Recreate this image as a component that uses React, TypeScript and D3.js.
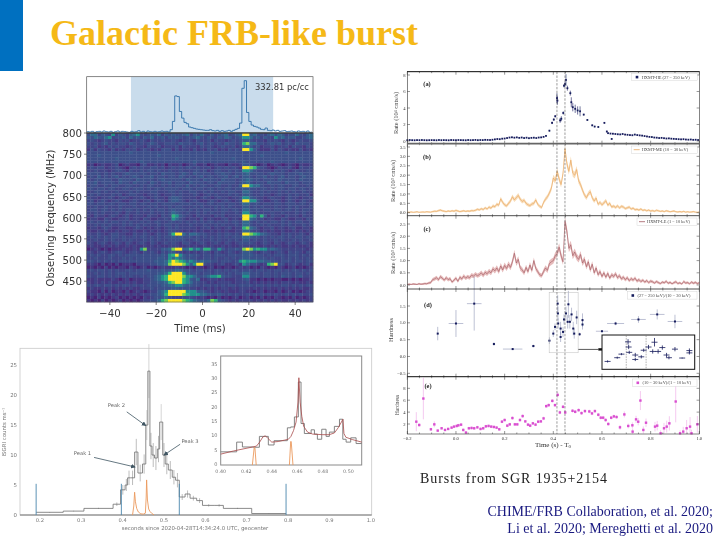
import * as d3 from "d3";

const title = "Galactic FRB-like burst";
const caption = "Bursts from SGR 1935+2154";
const refs = ["CHIME/FRB Collaboration, et al. 2020;", "Li et al. 2020; Mereghetti et al. 2020"];

// CHIME panel
const pulseTimes = d3.range(-50, 48, 1);
const pulseVals = [
  4,3,5,2,4,5,3,6,4,3, 5,2,4,6,3,5,4,3,2,5, 3,4,7,3,5,2,6,4,3,5, 3,4,6,4,5,3,
  10,35,112,110,65,45,32,28,18,16,14,12,11,10,9,8,8,10,7,6,8,5,7,5,6,8,5,8,11,14,30,
  135,158,62,35,24,20,18,15,11,10,15,8,7,9,6,8,5,6,7,4,5,6,4,3,6,4,5,3,6,2,4,
];
const freqTicks = [800, 750, 700, 650, 600, 550, 500, 450];
const timeMsTicks = [-40, -20, 0, 20, 40];
const dynLevels = [0.1, 0.16, 0.2, 0.24, 0.28, 0.34, 0.5, 0.65, 0.8, 1];
// one row per frequency channel, 800 MHz at the top, spaces only mark the two burst columns
const dynRows = [
  "35524326243245632343524 343345 243532423452345 99 453324535423353245",
  "43543562334253424352342 434323 345324324354234 66 534243264534422345",
  "23212322132312232132232 232123 213223132212323 44 322213232132123223",
  "32323423233243232343223 332433 323423323243323 78 553323434233243332",
  "22312132322123221322312 223132 221323212322312 55 423122312231322132",
  "13132213121323123212133 313122 131213231213232 99 642111313212113121",
  "33333333333343333333333 333333 333333433333333 33 333333333343333333",
  "33343333333333333333433 333333 333333333333333 33 333433333333333333",
  "33333333433333333333333 334333 333333333333433 33 333333333333334333",
  "33333333333333343333333 333333 343333333333333 43 333333433333333333",
  "12012112301211023112120 211201 231120121102112 44 210120121012102112",
  "23233122321023232233231 232323 323223123232321 99 874321013223103223",
  "22322212332132232332322 322322 233231233223232 66 532222132321232232",
  "33332323223433333233243 332343 243333233433233 45 333323433323334333",
  "23242323423234323342332 332432 323423323342342 44 323342323423323433",
  "32333332243332433332343 333324 333243332433323 45 433233324333324333",
  "33423333243324333243233 423332 433323324333323 45 323324333243332333",
  "23322323322332232332232 323324 232332233223224 99 655322323322332232",
  "33233233223323332323323 333233 323323323233233 44 332332323323323323",
  "22332322322232322233222 332322 332232322323322 55 322323223232322322",
  "23232223231233221223212 232322 232123232223232 44 322322123223232231",
  "32212232123212232123221 344322 221232123221223 66 432212322123221223",
  "23123212321123212312321 344321 232112321232123 99 663211232123212321",
  "33233233233233233233233 332333 323323323323323 55 333233233233323323",
  "22322322232223222323222 323322 232322232323222 44 232322232223232223",
  "23323323232332323232332 343332 323233232332332 55 333233233233232332",
  "22323222321322322232232 354323 223232322322232 66 323222322322232322",
  "21322123212312221322132 376432 213222132312223 99 763741322132221322",
  "12211321122312213211223 265321 221312211231221 99 542312211321122132",
  "23232323323232232323322 332323 232323323232332 55 323232332323233223",
  "22323232223232323222323 323222 322232232322232 55 322323222323222323",
  "12212321122112321212212 323222 221223122123122 78 542122312212311221",
  "21121211212212112121212 332212 121211212121122 55 322121211211212121",
  "32232123322113223212322 479953 554332223233232 99 876543221323223213",
  "23232323323223233232323 343433 323232323232333 55 433232323323233232",
  "22322323223232223232322 333332 233222323223232 44 232232232322323223",
  "32123212321321232132123 232133 212321232132123 33 321232132123212321",
  "12112121211212112121211 222112 121121211212112 22 121121212112121121",
  "01210101112112168222244 589955 756477436423343 89 867664543222222212",
  "32123212332123213232132 442212 121232132123212 44 321232123213232132",
  "23232233232333333333343 679643 433233233323333 44 433323233323332323",
  "22322232223232333333443 656543 332233232232323 44 333332322323232232",
  "33232323233333333334445 798765 654544332333236 76 665544332333233233",
  "12102010201110222233445 899986 469932212311231 65 332127893312321231",
  "01010201011021012010121 112110 102101201011012 12 010210102101201012",
  "23233232322332333433343 445543 323323233232332 33 323323233232332323",
  "22323232333233333333445 799964 333233233323233 55 333233232333233232",
  "32233232323232232334567 999986 653345667433222 66 333233232433234222",
  "11211112101201112234567 999976 435112221211122 34 110101011001010112",
  "21212121121212112233445 789976 533221212222122 23 121212121222121121",
  "32332332323323232333344 556654 433233232323323 33 323323232332323233",
  "12112121212121122232333 344333 221212121221212 22 121212112121212112",
  "21102020110201210122456 999996 664432122121112 21 101201102012010122",
  "12121212121212122233457 999987 666554334323232 23 232323232232323223",
  "01020101201010102123345 322233 321210102010120 12 010201021010201012",
  "10102010120101012233578 999987 654335874321212 22 212121212112121212",
].map((r) => r.replace(/ /g, ""));

// HXMT-HE rates
const aLeftRates = [
  .1,.12,.1,.09,.11,.1,.12,.1,.09,.1, .11,.1,.09,.12,.1,.11,.1,.09,.12,.11,
  .1,.12,.11,.1,.09,.12,.1,.11,.13,.1, .12,.11,.14,.13,.12,.15,.2,.24,.22,.28,
  .3,.36,.42,.45,.4,.44,.38,.42,.36,.4, .34,.38,.4,.36,.42,.44,.5,.62,
];
const aPeakTimes = [.384,.395,.402,.408,.415,.417,.428,.433,.441,.444,.448,.452,.458,.47,.474,.48,.49,.5,.51,.525,.54,.56,.57,.585,.61,.62,.64];
const aPeakRates = [1.25,2.2,2.6,3.0,5.2,4.9,2.5,2.7,3.4,6.7,6.9,7.4,6.4,5.8,4.7,4.1,3.9,3.7,3.6,3.2,2.55,1.9,1.75,1.7,2.2,1.15,.25];
const aPeakErrs = [.1,.15,.15,.15,.6,.5,.3,.3,.2,.2,.3,.7,.3,.3,.6,.5,.5,.5,.6,.1,.1,.1,.08,.08,.1,.1,.05];
const aRightRates = [
  .95,.9,.88,.85,.82,.8,.85,.78,.75,.72,.7,.78,.72,.68,.65,.6,.55,.5,.48,.42,
  .4,.36,.38,.34,.3,.32,.28,.26,.24,.22,.2,.22,.18,.16,.18,.14,.15,.12,
];
// HXMT-ME, 8 ms bins from -0.2 s
const bRates = [
  .03,.02,.04,.02,.03,.05,.02,.03,.04,.03, .05,.04,.03,.06,.08,.07,.11,.14,.1,.08,
  .06,.09,.07,.1,.08,.12,.09,.06,.08,.1, .07,.09,.08,.11,.1,.13,.18,.15,.21,.17,
  .26,.2,.3,.24,.36,.32,.45,.4,.74,.55, .42,.36,.5,.62,.85,.68,.8,.92,.72,.6,
  .66,.5,.42,.38,.46,.5,.68,.45,.34,.28, .55,.72,.85,1.05,1.3,1.85,1.7,2.2,1.8,1.5,
  2.1,3.4,2.6,2.2,2.8,2.1,2.0,2.3,1.7,1.5, 1.2,.95,.8,1.0,1.12,.8,.62,.78,.45,.55,
  .42,.52,.64,.4,.5,.3,.35,.28,.36,.26, .34,.3,.22,.26,.3,.2,.24,.16,.18,.14,
  .2,.12,.15,.1,.14,.09,.11,.08,.13,.1, .07,.09,.06,.1,.08,.05,.07,.09,.05,.04,
  .06,.04,.07,.03,.05,.03,.04,.06,.03,.02,.04,
];
// HXMT-LE, same bins
const cRates = [
  .02,.03,.02,.04,.03,.02,.05,.03,.04,.06, .05,.08,.1,.22,.25,.3,.22,.34,.28,.2,
  .3,.22,.26,.12,.2,.28,.15,.32,.25,.36, .28,.34,.3,.4,.36,.44,.38,.42,.5,.4,
  .52,.46,.56,.5,.66,.58,.7,.55,.78,.62, .8,.68,.85,.72,.95,1.3,.9,1.05,.7,.62,
  .5,.72,.55,.82,.6,1.0,.68,.55,.42,.38, .55,.7,.6,.88,.95,1.0,1.2,1.3,1.55,1.2,
  .95,2.6,2.2,1.5,1.65,1.2,1.35,1.15,1.05,1.25, .9,1.05,.75,.95,.62,.85,.5,.7,.42,.55,
  .35,.5,.32,.48,.28,.42,.35,.46,.3,.38, .25,.32,.22,.3,.18,.26,.2,.28,.16,.22,
  .14,.2,.12,.18,.1,.16,.13,.08,.14,.1, .06,.12,.09,.15,.07,.11,.05,.1,.13,.06,
  .09,.04,.14,.08,.1,.05,.12,.07,.11,.06,.09,
];
const dTimes = [-.075,0,.075,.156,.233,.318,.384,.4,.407,.418,.419,.42,.43,.43,.44,.444,.452,.459,.462,.468,.475,.482,.486,.496,.508,.52,.52,.6,.656,.75,.827,.9];
const dVals = [.68,.98,1.57,.37,.22,.31,.47,.68,.88,1.57,1.28,.98,.83,.58,.73,1.1,1.28,1.03,1.55,1.03,1.25,.83,.68,1.16,.66,1.08,.95,.75,.98,1.1,1.25,1.04];
const dYErrs = [.2,.4,.8,.05,.02,.04,.1,.1,.1,.25,.2,.15,.2,.15,.15,.15,.2,.2,.4,.2,.2,.2,.15,.2,.05,.2,.15,.01,.05,.1,.15,.2];
const dXErrs = [.003,.03,.03,.005,.04,.006,.005,.003,.003,.002,.002,.002,.003,.003,.003,.003,.003,.003,.003,.003,.003,.003,.003,.003,.005,.003,.003,.025,.035,.03,.03,.03];
const eTimes = [
  -.163,-.151,-.134,-.103,-.089,-.075,-.059,-.045,-.032,-.018,
  -.008,.003,.01,.021,.03,.041,.053,.064,.075,.088,
  .101,.112,.123,.134,.145,.156,.167,.178,.189,.2,
  .211,.221,.232,.242,.252,.263,.274,.285,.296,.305,
  .316,.327,.338,.349,.36,.371,.381,.396,.407,.418,
  .427,.44,.449,.479,.49,.504,.516,.53,.548,.559,
  .571,.585,.595,.605,.615,.626,.638,.649,.66,.674,
  .692,.708,.725,.726,.74,.749,.758,.77,.781,.818,
  .827,.841,.855,.866,.877,.903,.921,.934,.948,.962,
  .968,.992,
];
const eVals = [
  2.39,1.83,6.28,1.11,1.94,.89,1.28,1,1.17,1.39,
  1.56,1.67,1.78,1.89,1,.56,1.28,1.33,1.28,1.44,
  1.17,1.28,1.61,1.67,1.56,1.5,1.39,1.11,2.39,2.67,
  1.72,1.94,3,1.94,1.94,2.67,3.33,2.44,1.89,1.72,
  2.11,1.89,2.39,2.44,2.94,5,5.17,5.89,5.17,6.89,
  3.94,4.89,3.94,4.22,4.06,4.33,3.83,4.17,4.11,3.78,
  4.17,3.56,3.06,3.06,2.67,2,3.06,3.28,3.17,1.44,
  3.61,1.67,1.78,.72,2.78,2.39,5.94,1,2.22,1.56,
  1.72,.44,1.28,1.56,2.11,5.78,.44,.72,1.28,1.56,
  .44,1.94,
];
const eErrs = [
  1.6,.3,3.5,.25,.5,.2,.2,.2,.2,.2,
  .25,.25,.25,.25,.25,.25,.25,.25,.25,.25,
  .25,.25,.25,.25,.25,.25,.25,.25,.25,.25,
  .25,.25,.3,.25,.25,.3,.3,.25,.25,.25,
  .25,.25,.25,.25,.3,.3,.3,.3,.3,.5,
  .3,.3,.3,.3,.3,.3,.3,.3,.3,.3,
  .3,.3,.3,.3,.3,.3,.3,.3,.3,.4,
  .5,.4,.5,.5,.6,.6,1.6,.6,.7,.8,
  .8,.5,.9,1.0,1.2,3.5,.5,.8,1.4,1.6,
  .6,1.4,
];

// INTEGRAL light curve
const histEdges = [.191,.2565,.3065,.377,.395,.406,.412,.419,.429,.437,.448,.456,.461,.466,.471,.477,.484,.4895,.497,.503,.5105,.52,.528,.537,.551,.563,.579,.593,.623,.6435,.712,.795];
const histVals = [.45,.65,1.1,1.8,4.2,5,6.2,6.2,10.5,7,8.5,15,24,11.5,10,9.5,11,15.5,10,8.5,7.5,6.3,5.8,3,3.5,2.8,2.4,1.6,1.6,1.1,.25];
const histErrs = [.05,.06,.1,.3,.8,1,1.2,1.2,2.2,1.4,1.6,2.5,4.5,2.2,2,2,2.2,3,2,1.7,1.5,1.2,1.2,.5,.6,.4,.4,.2,.2,.1,.05];
const gateTimes = [.191,.397,.537,.795];
const gateHeight = 5.2;
const spikeTimes = [.424,.427,.429,.431,.434,.438,.444,.45,.455,.457,.458,.46,.463,.466,.47,.476];
const spikeVals = [0,1.5,3.8,2.2,1.1,.5,.2,.15,.3,3,5.85,2.5,1,.6,.3,0];
const histXTicks = [.2,.3,.4,.5,.6,.7,.8,.9,1.0];
const histYTicks = [0,5,10,15,20,25];
const peakNames = ["Peak 1","Peak 2","Peak 3"];
const peakTextT = [.303,.385,.563];
const peakTextV = [10.3,18.3,12.3];
const peakFromT = [.331,.41,.539];
const peakFromV = [9.6,17.2,11.8];
const peakToT = [.43,.456,.5];
const peakToV = [8,14.9,10];

const insetEdges = [.4,.4125,.417,.4256,.4303,.434,.4373,.4418,.4522,.4548,.4577,.4608,.4629,.4655,.4708,.4734,.4757,.4791,.4825,.4851,.489,.493,.4956,.4982,.5018,.506,.5104];
const insetVals = [4.6,8,6.3,6.2,10,10,7,8.5,13,13.3,16.8,29,14.5,11,12.3,10.8,9,12.5,10,11.5,13.5,16,9,8,9.5,7.5];
const fitTimes = [.4,.41,.425,.428,.4305,.433,.435,.437,.44,.445,.45,.453,.455,.457,.459,.4605,.4612,.4622,.4635,.465,.468,.472,.48,.485,.489,.492,.4945,.4957,.4965,.498,.503,.5104];
const fitVals = [3.8,4.9,6.3,6.6,8,9.8,10.2,9.3,8,8.2,8.7,9,10,12,15,22,30.5,22,17,13.5,11.5,10.8,10.6,10.6,11.2,13,15,16,11,9.7,8.9,8];
const insetSpikeTimes = [.4248,.4262,.4268,.4278];
const insetSpikeVals = [0,6,6,0];
const insetSpike2Times = [.4538,.4548,.4552,.4566];
const insetSpike2Vals = [0,8.2,8.2,0];
const insetXTicks = [.4,.42,.44,.46,.48,.5];
const insetYTicks = [0,5,10,15,20,25,30,35];

const SANS = "DejaVu Sans";
const SERIF = "Liberation Serif";

const timeX = d3.scaleLinear().domain([-0.2, 1]).range([407.3, 699.3]);
const timeTicks = [-.2,0,.2,.4,.6,.8,1];
const minorTicks = d3.range(-.2, 1.01, .05);
const dash1 = 0.415;
const dash2 = 0.448;

const binTimes = bRates.map((_, i) => -0.2 + 0.008 * i);

function XLadder({ top, bottom }: { top: number; bottom: number }) {
  return (
    <g stroke="#333" strokeWidth={0.5}>
      {minorTicks.map((t) => {
        const long = timeTicks.some((m) => Math.abs(m - t) < 1e-6);
        const l = long ? 3 : 1.5;
        return (
          <g key={t}>
            <line x1={timeX(t)} x2={timeX(t)} y1={top} y2={top + l} />
            <line x1={timeX(t)} x2={timeX(t)} y1={bottom} y2={bottom - l} />
          </g>
        );
      })}
    </g>
  );
}

function YTicks({ y, ticks, fmt }: { y: d3.ScaleLinear<number, number>; ticks: number[]; fmt: (v: number) => string }) {
  return (
    <g>
      {ticks.map((v) => (
        <g key={v}>
          <line x1={407.3} x2={410} y1={y(v)} y2={y(v)} stroke="#333" strokeWidth={0.5} />
          <line x1={699.3} x2={696.6} y1={y(v)} y2={y(v)} stroke="#333" strokeWidth={0.5} />
          <text x={405.5} y={y(v) + 1.6} textAnchor="end" fontSize={4.6} fontFamily={SERIF} fill="#333">
            {fmt(v)}
          </text>
        </g>
      ))}
    </g>
  );
}

function Legend({ x, y, w, label, color, square }: { x: number; y: number; w: number; label: string; color: string; square?: boolean }) {
  return (
    <g>
      <rect x={x} y={y} width={w} height={7.4} fill="#fff" stroke="#ccc" strokeWidth={0.4} />
      {square ? (
        <rect x={x + 4} y={y + 2.5} width={2.6} height={2.6} fill={color} />
      ) : (
        <line x1={x + 2} x2={x + 8} y1={y + 3.7} y2={y + 3.7} stroke={color} strokeWidth={0.8} />
      )}
      <text x={x + 10} y={y + 5.3} fontSize={4.4} fontFamily={SERIF} fill="#444">
        {label}
      </text>
    </g>
  );
}

function RatePanel({ vals, y, color, band, ticks, top, bottom, fmt, name, labelY }: {
  vals: number[]; y: d3.ScaleLinear<number, number>; color: string; band: string; ticks: number[];
  top: number; bottom: number; fmt: (v: number) => string; name: string; labelY: number;
}) {
  const area = d3.area<number>()
    .x((_, i) => timeX(binTimes[i]))
    .y0((d) => y(Math.max(0, d - 0.02 - 0.11 * Math.sqrt(d))))
    .y1((d) => y(d + 0.02 + 0.11 * Math.sqrt(d)));
  const line = d3.line<number>().x((_, i) => timeX(binTimes[i])).y((d) => y(d));
  return (
    <g>
      <path d={area(vals) ?? ""} fill={band} />
      <path d={line(vals) ?? ""} fill="none" stroke={color} strokeWidth={0.6} />
      <YTicks y={y} ticks={ticks} fmt={fmt} />
      <XLadder top={top} bottom={bottom} />
      <text x={427} y={labelY} textAnchor="middle" fontFamily={SERIF} fontWeight="bold" fontSize={6.4} fill="#222">{name}</text>
    </g>
  );
}

function Chime() {
  const x = d3.scaleLinear().domain([-50, 47.7]).range([86.7, 313]);
  const fy = d3.scaleLinear().domain([800, 401]).range([133, 302]);
  const py = d3.scaleLinear().domain([0, 170]).range([133, 76.7]);
  const rowBand = d3.scaleBand<number>().domain(d3.range(dynRows.length)).range([133, 302]);
  const colBand = d3.scaleBand<number>().domain(d3.range(dynRows[0].length)).range([86.7, 313]);
  const color = (ch: string) => d3.interpolateViridis(dynLevels[+ch]);
  const step = d3.line<number>().x((_, i) => x(pulseTimes[i])).y((d) => py(d)).curve(d3.curveStepAfter);
  return (
    <g fontFamily={SANS} fill="#333">
      <rect x={x(-30.9)} y={76.7} width={x(30.5) - x(-30.9)} height={56.3} fill="#c9dcec" />
      <path d={step(pulseVals) ?? ""} fill="none" stroke="#2f6fa8" strokeWidth={0.9} />
      <rect x={86.7} y={76.7} width={226.3} height={56.3} fill="none" stroke="#555" strokeWidth={0.7} />
      <text x={255} y={89.5} fontSize={8.4}>332.81 pc/cc</text>
      {dynRows.map((row, r) =>
        row.split("").map((ch, c) => (
          <rect key={`${r}-${c}`} x={colBand(c)} y={rowBand(r)} width={colBand.bandwidth() + 0.3} height={rowBand.bandwidth() + 0.3} fill={color(ch)} />
        ))
      )}
      <line x1={86.7} x2={313} y1={133} y2={133} stroke="#222" strokeWidth={1} />
      <rect x={86.7} y={133} width={226.3} height={169} fill="none" stroke="#555" strokeWidth={0.6} />
      {freqTicks.map((f) => (
        <g key={f}>
          <line x1={84} x2={86.7} y1={fy(f)} y2={fy(f)} stroke="#333" strokeWidth={0.6} />
          <text x={82} y={fy(f) + 4} textAnchor="end" fontSize={10.2}>{f}</text>
        </g>
      ))}
      {timeMsTicks.map((t) => (
        <g key={t}>
          <line x1={x(t)} x2={x(t)} y1={302} y2={305} stroke="#333" strokeWidth={0.6} />
          <text x={x(t)} y={317} textAnchor="middle" fontSize={10.2}>{t < 0 ? `\u2212${-t}` : t}</text>
        </g>
      ))}
      <text x={200} y={331.5} textAnchor="middle" fontSize={10.2}>Time (ms)</text>
      <text transform="translate(54,218) rotate(-90)" textAnchor="middle" fontSize={10}>Observing frequency (MHz)</text>
    </g>
  );
}

function HxmtStack() {
  const ya = d3.scaleLinear().domain([0, 8]).range([141, 75]);
  const yb = d3.scaleLinear().domain([0, 3.5]).range([212.7, 147]);
  const yc = d3.scaleLinear().domain([0, 2.5]).range([285, 224]);
  const yd = d3.scaleLinear().domain([-.5, 1.5]).range([373.3, 306]);
  const ye = d3.scaleLinear().domain([2, 8]).range([424, 388.3]);
  const aLeftTimes = aLeftRates.map((_, i) => -0.2 + 0.01 * i);
  const aRightTimes = aRightRates.map((_, i) => 0.625 + 0.01 * i);
  const navy = "#161c5c";
  const ix = d3.scaleLinear().domain([.378, .526]).range([604, 693]);
  const iy = d3.scaleLinear().domain([.1, 1.9]).range([368, 336]);
  const inset = dTimes.map((t, i) => i).filter((i) => dTimes[i] > .38 && dTimes[i] < .53);
  return (
    <g>
      {/* panel a */}
      {aPeakTimes.map((t, i) => (
        <line key={t} x1={timeX(t)} x2={timeX(t)} y1={ya(aPeakRates[i] - aPeakErrs[i])} y2={ya(aPeakRates[i] + aPeakErrs[i])} stroke={navy} strokeWidth={0.6} />
      ))}
      {[...aLeftTimes.map((t, i) => [t, aLeftRates[i]]), ...aPeakTimes.map((t, i) => [t, aPeakRates[i]]), ...aRightTimes.map((t, i) => [t, aRightRates[i]])].map(([t, v]) => (
        <rect key={t} x={timeX(t) - 0.9} y={ya(v) - 0.9} width={1.8} height={1.8} fill={navy} />
      ))}
      <YTicks y={ya} ticks={[0, 2, 4, 6, 8]} fmt={(v) => `${v}`} />
      <XLadder top={71.7} bottom={143.7} />
      <text x={427} y={86} textAnchor="middle" fontFamily={SERIF} fontWeight="bold" fontSize={6.4} fill="#222">(a)</text>
      <Legend x={631.7} y={73.3} w={65.5} label={"HXMT-HE (27 \u2212 250 keV)"} color={navy} square />

      <RatePanel vals={bRates} y={yb} color="#e8a45c" band="#f8dcb8" ticks={[0,.5,1,1.5,2,2.5,3,3.5]} top={143.7} bottom={215.7} fmt={(v) => v.toFixed(1)} name="(b)" labelY={158.5} />
      <Legend x={631.7} y={146} w={65.5} label={"HXMT-ME (10 \u2212 30 keV)"} color="#e8a45c" />
      <RatePanel vals={cRates} y={yc} color="#a05860" band="#e6bcbc" ticks={[0,.5,1,1.5,2,2.5]} top={215.7} bottom={289} fmt={(v) => v.toFixed(1)} name="(c)" labelY={231} />
      <Legend x={637} y={218} w={60} label={"HXMT-LE (1 \u2212 10 keV)"} color="#a05860" />

      {/* panel d */}
      {dTimes.map((t, i) => (
        <g key={i} stroke="#7a80a8" strokeWidth={0.5}>
          <line x1={timeX(t)} x2={timeX(t)} y1={yd(dVals[i] - dYErrs[i])} y2={yd(dVals[i] + dYErrs[i])} />
          <line x1={timeX(t - dXErrs[i])} x2={timeX(t + dXErrs[i])} y1={yd(dVals[i])} y2={yd(dVals[i])} />
        </g>
      ))}
      {dTimes.map((t, i) => (
        <rect key={i} x={timeX(t) - 1} y={yd(dVals[i]) - 1} width={2} height={2} fill={navy} />
      ))}
      <rect x={timeX(.383)} y={yd(1.9)} width={timeX(.502) - timeX(.383)} height={yd(.11) - yd(1.9)} fill="none" stroke="#bbb" strokeWidth={0.5} />
      <line x1={timeX(.503)} x2={timeX(.585)} y1={yd(.21)} y2={yd(.21)} stroke="#111" strokeWidth={0.7} />
      <rect x={timeX(.585)} y={yd(.21) - 1.2} width={timeX(.6) - timeX(.585)} height={2.4} fill="#111" />
      <YTicks y={yd} ticks={[-.5, 0, .5, 1, 1.5]} fmt={(v) => v.toFixed(1).replace("-", "\u2212")} />
      <XLadder top={289} bottom={376.7} />
      <text x={428} y={307} textAnchor="middle" fontFamily={SERIF} fontWeight="bold" fontSize={6.4} fill="#222">(d)</text>
      <Legend x={627.5} y={291.7} w={69.5} label={"(27 \u2212 250 keV)/(10 \u2212 30 keV)"} color={navy} square />

      <rect x={602} y={335} width={92.7} height={34.3} fill="#fff" stroke="#111" strokeWidth={1} />
      <line x1={ix(dash1)} x2={ix(dash1)} y1={335.5} y2={369} stroke="#666" strokeWidth={0.5} strokeDasharray="1.6 1" />
      <line x1={ix(dash2)} x2={ix(dash2)} y1={335.5} y2={369} stroke="#666" strokeWidth={0.5} strokeDasharray="1.6 1" />
      {inset.map((i) => (
        <g key={i} stroke={navy} strokeWidth={0.8}>
          <line x1={ix(dTimes[i])} x2={ix(dTimes[i])} y1={iy(dVals[i] - dYErrs[i] * .6)} y2={iy(dVals[i] + dYErrs[i] * .6)} />
          <line x1={ix(dTimes[i]) - 3} x2={ix(dTimes[i]) + 3} y1={iy(dVals[i])} y2={iy(dVals[i])} />
        </g>
      ))}

      {/* panel e */}
      {eTimes.map((t, i) => (
        <line key={i} x1={timeX(t)} x2={timeX(t)} y1={Math.min(ye(eVals[i] - eErrs[i]), 434)} y2={Math.max(ye(eVals[i] + eErrs[i]), 376.7)} stroke="#eea6e6" strokeWidth={0.6} />
      ))}
      {eTimes.map((t, i) => (
        <rect key={i} x={timeX(t) - 1.2} y={ye(eVals[i]) - 1.2} width={2.4} height={2.4} fill="#d94fd0" />
      ))}
      <YTicks y={ye} ticks={[2, 4, 6, 8]} fmt={(v) => `${v}`} />
      <XLadder top={376.7} bottom={434} />
      <text x={428} y={388} textAnchor="middle" fontFamily={SERIF} fontWeight="bold" fontSize={6.4} fill="#222">(e)</text>
      <Legend x={632.5} y={379} w={64.5} label={"(10 \u2212 30 keV)/(1 \u2212 10 keV)"} color="#d94fd0" square />

      {/* shared frame */}
      {[dash1, dash2].map((t) => (
        <line key={t} x1={timeX(t)} x2={timeX(t)} y1={71.7} y2={434} stroke="#555" strokeWidth={0.6} strokeDasharray="2.4 1.4" />
      ))}
      <rect x={407.3} y={71.7} width={292} height={362.3} fill="none" stroke="#333" strokeWidth={0.6} />
      <line x1={407.3} x2={699.3} y1={143.7} y2={143.7} stroke="#666" strokeWidth={1.8} />
      <line x1={407.3} x2={699.3} y1={215.7} y2={215.7} stroke="#222" strokeWidth={0.8} />
      <line x1={407.3} x2={699.3} y1={289} y2={289} stroke="#222" strokeWidth={0.8} />
      <line x1={407.3} x2={699.3} y1={376.7} y2={376.7} stroke="#111" strokeWidth={1} />
      <line x1={407.3} x2={699.3} y1={71.7} y2={71.7} stroke="#111" strokeWidth={0.9} />
      {timeTicks.map((t) => (
        <text key={t} x={timeX(t)} y={439.5} textAnchor="middle" fontSize={4.6} fontFamily={SERIF} fill="#333">{t.toFixed(1).replace("-", "\u2212")}</text>
      ))}
      <text x={553} y={447} textAnchor="middle" fontSize={7} fontFamily={SERIF} fill="#333">Time (s) - T<tspan fontSize={5} dy={1}>0</tspan></text>
      <g fontFamily={SERIF} fontSize={6.4} fill="#444" textAnchor="middle">
        <text transform="translate(398,113) rotate(-90)">Rate (10<tspan fontSize={4} dy={-1.5}>4</tspan><tspan dy={1.5}> cnts/s)</tspan></text>
        <text transform="translate(395,181) rotate(-90)">Rate (10<tspan fontSize={4} dy={-1.5}>3</tspan><tspan dy={1.5}> cnts/s)</tspan></text>
        <text transform="translate(395,253) rotate(-90)">Rate (10<tspan fontSize={4} dy={-1.5}>3</tspan><tspan dy={1.5}> cnts/s)</tspan></text>
        <text transform="translate(393,330) rotate(-90)">Hardness</text>
        <text transform="translate(399,405) rotate(-90)" fontSize={5.4}>Hardness</text>
      </g>
    </g>
  );
}

function Integral() {
  const x = d3.scaleLinear().domain([.152, 1.002]).range([20, 371.7]);
  const y = d3.scaleLinear().domain([0, 27.8]).range([515, 348.3]);
  const step = d3.line<number>().x((d) => x(d)).y((_, i) => y(histVals[Math.min(i, histVals.length - 1)])).curve(d3.curveStepAfter);
  const spike = d3.line<number>().x((d) => x(d)).y((_, i) => y(spikeVals[i]));

  const ix = d3.scaleLinear().domain([.4, .5104]).range([220.7, 361.7]);
  const iy = d3.scaleLinear().domain([0, 38.1]).range([465, 356]);
  const iStep = d3.line<number>().x((d) => ix(d)).y((_, i) => iy(insetVals[Math.min(i, insetVals.length - 1)])).curve(d3.curveStepAfter);
  const fit = d3.line<number>().x((d) => ix(d)).y((_, i) => iy(fitVals[i]));
  const s1 = d3.line<number>().x((d) => ix(d)).y((_, i) => iy(insetSpikeVals[i]));
  const s2 = d3.line<number>().x((d) => ix(d)).y((_, i) => iy(insetSpike2Vals[i]));
  return (
    <g fontFamily={SANS} fill="#777">
      <rect x={20} y={348.3} width={351.7} height={166.7} fill="#fff" stroke="#c8c8c8" strokeWidth={0.8} />
      <line x1={20} x2={371.7} y1={515} y2={515} stroke="#777" strokeWidth={1} />
      {histEdges.slice(0, -1).map((t, i) => {
        const mid = (t + histEdges[i + 1]) / 2;
        return (
          <line key={t} x1={x(mid)} x2={x(mid)} y1={y(histVals[i] - histErrs[i])} y2={y(histVals[i] + histErrs[i])} stroke={histVals[i] > 14 ? "#c4c4c4" : "#a0a0a0"} strokeWidth={0.7} />
        );
      })}
      <path d={step(histEdges) ?? ""} fill="none" stroke="#6e6e6e" strokeWidth={0.8} />
      <path d={spike(spikeTimes) ?? ""} fill="none" stroke="#eb9a5e" strokeWidth={0.9} />
      {gateTimes.map((t) => (
        <line key={t} x1={x(t)} x2={x(t)} y1={y(0)} y2={y(gateHeight)} stroke="#4a86ad" strokeWidth={0.9} />
      ))}
      {histYTicks.map((v) => (
        <text key={v} x={17} y={y(v) + 2} textAnchor="end" fontSize={5.4}>{v}</text>
      ))}
      {histXTicks.map((t) => (
        <text key={t} x={x(t)} y={522} textAnchor="middle" fontSize={5.2}>{t.toFixed(1)}</text>
      ))}
      <text x={195} y={529.5} textAnchor="middle" fontSize={5.4}>seconds since 2020-04-28T14:34:24.0 UTC, geocenter</text>
      <text transform={`translate(6,${432}) rotate(-90)`} textAnchor="middle" fontSize={5.4}>ISGRI counts ms⁻¹</text>
      {peakNames.map((name, i) => (
        <g key={name}>
          <text x={x(peakTextT[i])} y={y(peakTextV[i]) + 2} textAnchor="middle" fontSize={5.2} fill="#666">{name}</text>
          <line x1={x(peakFromT[i])} y1={y(peakFromV[i])} x2={x(peakToT[i])} y2={y(peakToV[i])} stroke="#3f5562" strokeWidth={0.8} markerEnd="url(#arr)" />
        </g>
      ))}

      <rect x={220.7} y={356} width={141} height={109} fill="#fff" stroke="#8a8a8a" strokeWidth={1} />
      <path d={iStep(insetEdges) ?? ""} fill="none" stroke="#777" strokeWidth={0.9} />
      <path d={fit(fitTimes) ?? ""} fill="none" stroke="#a84a4a" strokeWidth={0.8} />
      <path d={s1(insetSpikeTimes) ?? ""} fill="none" stroke="#eb9a5e" strokeWidth={0.9} />
      <path d={s2(insetSpike2Times) ?? ""} fill="none" stroke="#eb9a5e" strokeWidth={0.9} />
      {insetXTicks.map((t) => (
        <text key={t} x={ix(t)} y={472.5} textAnchor="middle" fontSize={4.8}>{t.toFixed(2)}</text>
      ))}
      {insetYTicks.map((v) => (
        <text key={v} x={217.5} y={iy(v) + 1} textAnchor="end" fontSize={5}>{v}</text>
      ))}
    </g>
  );
}

export default function App() {
  return (
    <svg width={720} height={540} viewBox="0 0 720 540" style={{ position: "absolute", left: 0, top: 0, background: "#fff" }}>
      <defs>
        <filter id="soft" filterUnits="userSpaceOnUse" x={0} y={60} width={720} height={480}>
          <feGaussianBlur stdDeviation={0.45} />
        </filter>
        <marker id="arr" markerWidth={6} markerHeight={6} refX={5} refY={3} orient="auto">
          <path d="M0,0 L6,3 L0,6 Z" fill="#3f5562" />
        </marker>
      </defs>
      <rect x={0} y={0} width={23} height={71} fill="#0070c0" />
      <text x={50} y={45} fontFamily={SERIF} fontWeight="bold" fontSize={36} fill="#f5b917">{title}</text>
      <g filter="url(#soft)">
        <Chime />
        <HxmtStack />
        <Integral />
      </g>
      <text x={420} y={483} fontFamily={SERIF} fontSize={14} fill="#222" textLength={187}>{caption}</text>
      <text x={713} y={516} textAnchor="end" fontFamily={SERIF} fontSize={14} fill="#1a1a80">{refs[0]}</text>
      <text x={713} y={533} textAnchor="end" fontFamily={SERIF} fontSize={14} fill="#1a1a80">{refs[1]}</text>
    </svg>
  );
}
